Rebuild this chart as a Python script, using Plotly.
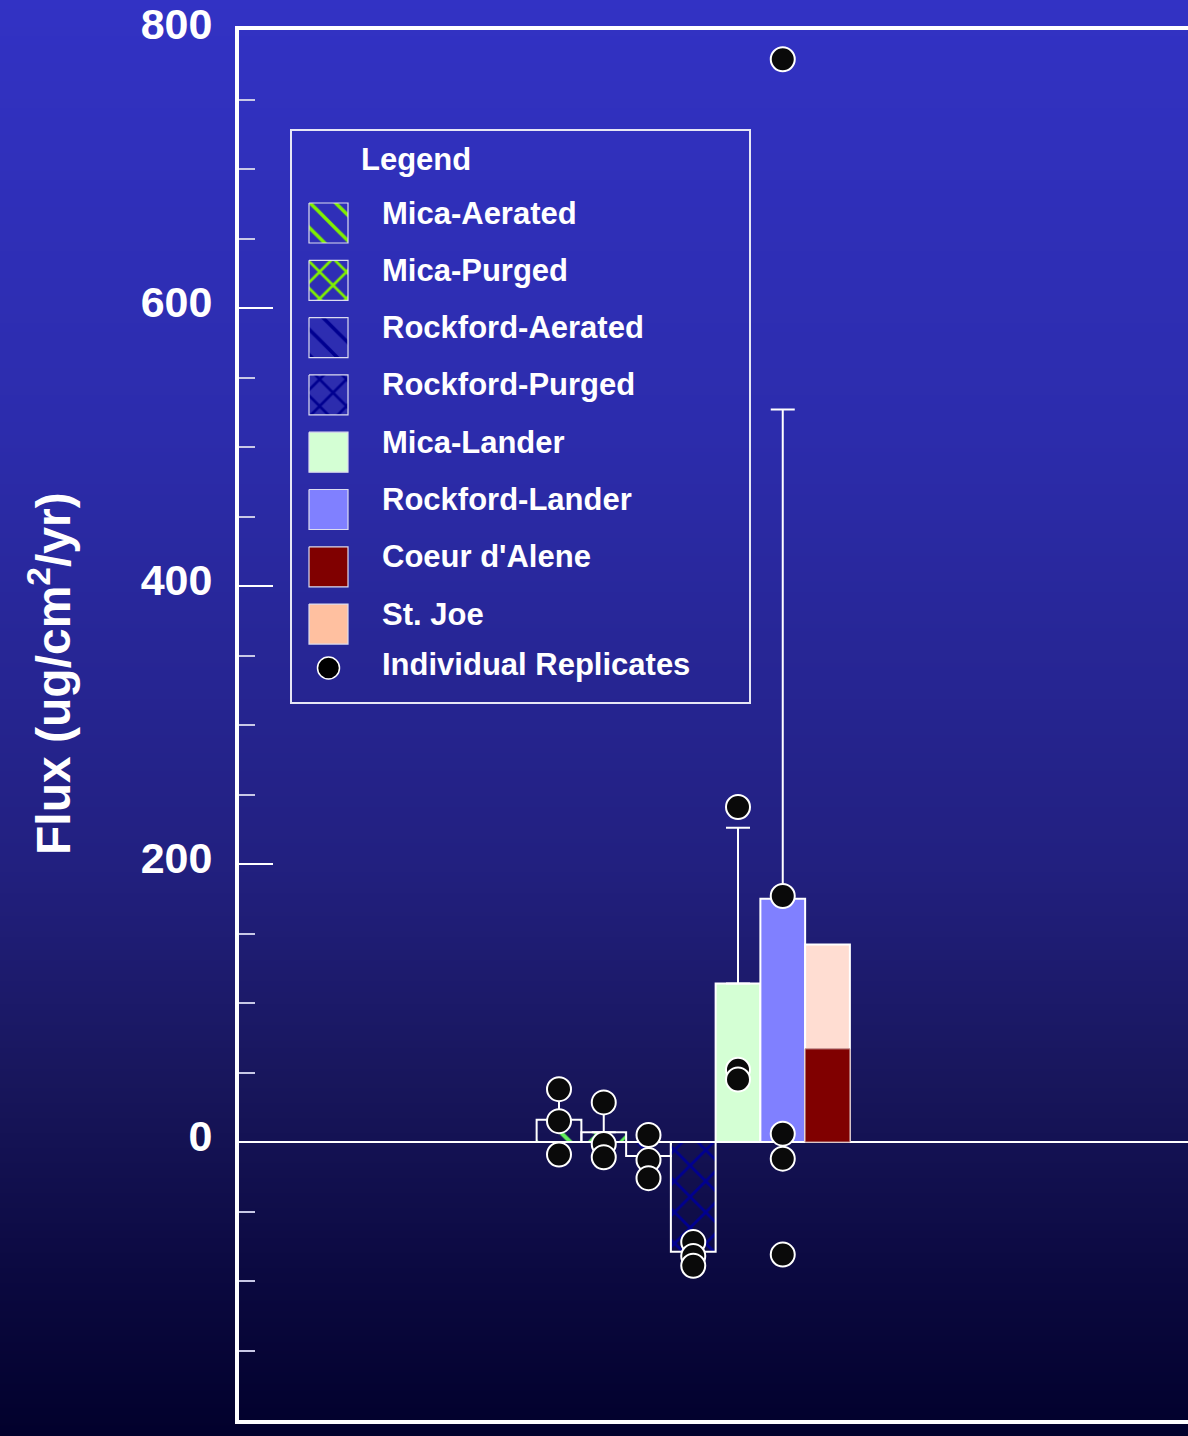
import base64
import struct
import zlib

import plotly.graph_objects as go

# ---------------------------------------------------------------- data
categories = ["Mica-Aerated", "Mica-Purged", "Rockford-Aerated", "Rockford-Purged",
              "Mica-Lander", "Rockford-Lander", "Coeur d'Alene", "St. Joe"]
positions = [1, 2, 3, 4, 5, 6, 7, 7]          # Coeur d'Alene and St. Joe share a slot
mean_flux = [16, 7, -10, -79, 114, 175, 67, 142]
err_upper = [22, 21, 0, 0, 112, 352, 0, 0]

replicates = {
    "Mica-Aerated": [38, 15, -9],
    "Mica-Purged": [28.5, -1.5, -11],
    "Rockford-Aerated": [5, -13, -26],
    "Rockford-Purged": [-72, -82, -89],
    "Mica-Lander": [241, 52, 45],
    "Rockford-Lander": [779, 177, 6, -12, -81],
}

y_ticks = [-200, 0, 200, 400, 600, 800]

# ---------------------------------------------------------------- styles
FONT = "Liberation Sans"
WHITE = "#ffffff"
GREEN_BAR = "#62f05a"
GREEN_KEY = "#80f000"
NAVY = "#000090"


def hatch(shape, color, size, solidity):
    return dict(shape=shape, fgcolor=color, fgopacity=1, size=size, solidity=solidity)


bar_style = {
    "Mica-Aerated": dict(color="rgba(0,0,0,0)", pattern=hatch("\\", GREEN_BAR, 24, 0.17)),
    "Mica-Purged": dict(color="rgba(0,0,0,0)", pattern=hatch("x", GREEN_BAR, 22, 0.24)),
    "Rockford-Aerated": dict(color="rgba(0,0,0,0)", pattern=hatch("\\", NAVY, 24, 0.17)),
    "Rockford-Purged": dict(color="rgba(0,0,0,0)", pattern=hatch("x", NAVY, 22, 0.24)),
    "Mica-Lander": dict(color="#d4ffd4"),
    "Rockford-Lander": dict(color="#8080ff"),
    "Coeur d'Alene": dict(color="#800000"),
    "St. Joe": dict(color="#ffddd2"),
}

key_style = {
    "Mica-Aerated": dict(pattern=hatch("\\", GREEN_KEY, 18, 0.2)),
    "Mica-Purged": dict(pattern=hatch("x", GREEN_KEY, 19, 0.26)),
    "Rockford-Aerated": dict(pattern=hatch("\\", NAVY, 18, 0.2)),
    "Rockford-Purged": dict(pattern=hatch("x", NAVY, 19, 0.26)),
    "Mica-Lander": dict(color="#d4ffd4"),
    "Rockford-Lander": dict(color="#8080ff"),
    "Coeur d'Alene": dict(color="#800000"),
    "St. Joe": dict(color="#ffc0a0"),
}

W, H = 1188, 1436
L, T, B = 239, 30, 16
PLOT_W, PLOT_H = W - L, H - T - B
SLOT = 44.75                     # pixels per category slot
FIRST_CENTER = 559               # pixel centre of the first slot
x_lo = 1 - (FIRST_CENTER - L) / SLOT
x_hi = x_lo + PLOT_W / SLOT


# ---------------------------------------------------------------- background gradient
def gradient_uri(stops, height, width=4):
    rows = bytearray()
    for i in range(height):
        for k in range(len(stops) - 1):
            (p0, c0), (p1, c1) = stops[k], stops[k + 1]
            if p0 <= i <= p1:
                t = (i - p0) / (p1 - p0)
                rgb = [round(a + (b - a) * t) for a, b in zip(c0, c1)]
                break
        rows.append(0)
        rows.extend(bytes(rgb) * width)

    def chunk(tag, data):
        return (struct.pack(">I", len(data)) + tag + data
                + struct.pack(">I", zlib.crc32(tag + data) & 0xFFFFFFFF))

    png = (b"\x89PNG\r\n\x1a\n"
           + chunk(b"IHDR", struct.pack(">IIBBBBB", width, height, 8, 2, 0, 0, 0))
           + chunk(b"IDAT", zlib.compress(bytes(rows), 9))
           + chunk(b"IEND", b""))
    return "data:image/png;base64," + base64.b64encode(png).decode()


bg_stops = [(0, (50, 50, 196)), (430, (44, 44, 172)), (860, (34, 32, 128)),
            (1080, (24, 22, 92)), (1290, (10, 8, 62)), (H - 1, (2, 1, 44))]

fig = go.Figure()

# ---------------------------------------------------------------- bars
bar_traces = []
for name, pos, val, eu in zip(categories, positions, mean_flux, err_upper):
    style = bar_style[name]
    marker = dict(color=style["color"], line=dict(color=WHITE, width=2))
    if "pattern" in style:
        marker["pattern"] = style["pattern"]
    if name == "Coeur d'Alene":
        marker["line"] = dict(color="#c09090", width=1)
    bar_traces.append(go.Bar(
        x=[pos], y=[val], width=1, marker=marker, name=name, showlegend=False,
        error_y=dict(type="data", symmetric=False, array=[eu], arrayminus=[0],
                     color=WHITE, thickness=2, width=12, visible=eu > 0),
    ))

# St. Joe sits behind Coeur d'Alene in the shared slot
for tr in bar_traces[:6] + [bar_traces[7], bar_traces[6]]:
    fig.add_trace(tr)

# ---------------------------------------------------------------- replicate points
px_, py_ = [], []
for name, pos in zip(categories, positions):
    for v in replicates.get(name, []):
        px_.append(pos)
        py_.append(v)
fig.add_trace(go.Scatter(
    x=px_, y=py_, mode="markers", showlegend=False,
    marker=dict(size=24, color="#0a0a0a", line=dict(color=WHITE, width=2)),
))

# ---------------------------------------------------------------- legend (pixel overlay axes)
KEY_X0, KEY_X1 = 309, 348
KEY_TOP0, KEY_STEP, KEY_H = 203, 57.3, 40
TEXT_X, TEXT_Y0 = 380, 213
KEY_FONT = dict(family=FONT, size=31, color=WHITE, weight="bold")
for i, name in enumerate(categories):
    y0 = KEY_TOP0 + i * KEY_STEP
    y1 = y0 + KEY_H
    st = key_style[name]
    kw = dict(
        x=[KEY_X0, KEY_X1, KEY_X1, KEY_X0, KEY_X0],
        y=[y0, y0, y1, y1, y0],
        mode="lines", fill="toself", xaxis="x2", yaxis="y2", showlegend=False,
        line=dict(color="#dcdcf0", width=1.2), hoverinfo="skip",
    )
    if "pattern" in st:
        kw["fillcolor"] = "rgba(0,0,0,0)"
        kw["fillpattern"] = st["pattern"]
    else:
        kw["fillcolor"] = st["color"]
    fig.add_trace(go.Scatter(**kw))
    fig.add_annotation(
        x=TEXT_X, y=TEXT_Y0 + i * KEY_STEP, xref="x2", yref="y2",
        text=name, showarrow=False, xanchor="left", yanchor="middle",
        font=KEY_FONT,
    )

fig.add_trace(go.Scatter(
    x=[(KEY_X0 + KEY_X1) / 2], y=[668], xaxis="x2", yaxis="y2", mode="markers",
    showlegend=False, hoverinfo="skip",
    marker=dict(size=22, color="#000000", line=dict(color=WHITE, width=1.5)),
))
fig.add_annotation(
    x=TEXT_X, y=664, xref="x2", yref="y2", text="Individual Replicates",
    showarrow=False, xanchor="left", yanchor="middle", font=KEY_FONT,
)
fig.add_annotation(
    x=359, y=159, xref="x2", yref="y2", text="Legend",
    showarrow=False, xanchor="left", yanchor="middle", font=KEY_FONT,
)
fig.add_shape(type="rect", xref="x2", yref="y2", x0=291, x1=750, y0=130, y1=703,
              line=dict(color="#e6e6f5", width=2), fillcolor="rgba(0,0,0,0)")

# ---------------------------------------------------------------- axis title
fig.add_annotation(
    x=(50 - L) / PLOT_W, y=(H - B - 674) / PLOT_H, xref="paper", yref="paper",
    text="Flux (ug/cm<sup>2</sup>/yr)", textangle=-90, showarrow=False,
    xanchor="center", yanchor="middle",
    font=dict(family=FONT, size=48, color=WHITE, weight="bold"),
)

# ---------------------------------------------------------------- layout
fig.update_layout(
    width=W, height=H,
    margin=dict(l=L, r=0, t=T, b=B, pad=0),
    paper_bgcolor="#02012c",
    plot_bgcolor="rgba(0,0,0,0)",
    barmode="overlay",
    showlegend=False,
    images=[dict(
        source=gradient_uri(bg_stops, H), xref="paper", yref="paper",
        x=-L / PLOT_W, y=1 + T / PLOT_H, sizex=W / PLOT_W, sizey=H / PLOT_H,
        xanchor="left", yanchor="top", sizing="stretch", layer="below",
    )],
    xaxis=dict(
        range=[x_lo, x_hi], showticklabels=False, ticks="", showgrid=False,
        zeroline=False, showline=True, linecolor=WHITE, linewidth=4, mirror=True,
        fixedrange=True,
    ),
    yaxis=dict(
        range=[-200, 800], tickvals=y_ticks, ticks="inside", ticklen=34,
        tickwidth=2, tickcolor=WHITE, showgrid=False,
        zeroline=True, zerolinecolor=WHITE, zerolinewidth=2,
        showline=True, linecolor=WHITE, linewidth=4, mirror=False,
        tickfont=dict(family=FONT, size=43, color=WHITE, weight="bold"),
        ticklabelstandoff=14, ticklabelshift=-6,
        minor=dict(dtick=50, ticks="inside", ticklen=16, tickwidth=1.5,
                   tickcolor="#c8c8e6"),
        fixedrange=True,
    ),
    xaxis2=dict(range=[L, W], overlaying="x", anchor="y2", visible=False,
                fixedrange=True),
    yaxis2=dict(range=[H - B, T], overlaying="y", anchor="x2", visible=False,
                fixedrange=True),
)

fig.write_html("out.html")
